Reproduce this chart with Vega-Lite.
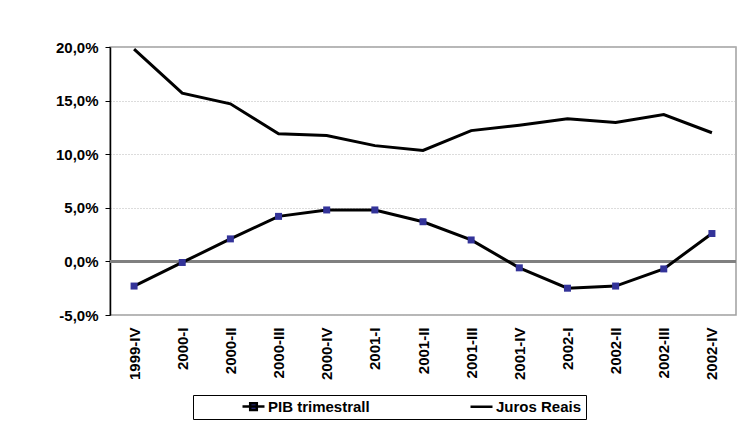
{
  "$schema": "https://vega.github.io/schema/vega-lite/v6.json",
  "width": 626,
  "height": 268,
  "autosize": "none",
  "padding": {"left": 110, "top": 47, "right": 12, "bottom": 132},
  "background": "white",
  "config": {
    "font": "Liberation Sans",
    "view": {"stroke": "#a0a0a0", "strokeWidth": 1.5}
  },
  "data": {
    "values": [
      {"q": "1999-IV", "serie": "Juros Reais", "v": 19.8},
      {"q": "2000-I", "serie": "Juros Reais", "v": 15.7},
      {"q": "2000-II", "serie": "Juros Reais", "v": 14.7},
      {"q": "2000-III", "serie": "Juros Reais", "v": 11.9},
      {"q": "2000-IV", "serie": "Juros Reais", "v": 11.75},
      {"q": "2001-I", "serie": "Juros Reais", "v": 10.8},
      {"q": "2001-II", "serie": "Juros Reais", "v": 10.35},
      {"q": "2001-III", "serie": "Juros Reais", "v": 12.2},
      {"q": "2001-IV", "serie": "Juros Reais", "v": 12.7},
      {"q": "2002-I", "serie": "Juros Reais", "v": 13.3},
      {"q": "2002-II", "serie": "Juros Reais", "v": 12.95},
      {"q": "2002-III", "serie": "Juros Reais", "v": 13.7},
      {"q": "2002-IV", "serie": "Juros Reais", "v": 12.0},
      {"q": "1999-IV", "serie": "PIB trimestrall", "v": -2.3},
      {"q": "2000-I", "serie": "PIB trimestrall", "v": -0.1},
      {"q": "2000-II", "serie": "PIB trimestrall", "v": 2.1},
      {"q": "2000-III", "serie": "PIB trimestrall", "v": 4.2},
      {"q": "2000-IV", "serie": "PIB trimestrall", "v": 4.8},
      {"q": "2001-I", "serie": "PIB trimestrall", "v": 4.8},
      {"q": "2001-II", "serie": "PIB trimestrall", "v": 3.7},
      {"q": "2001-III", "serie": "PIB trimestrall", "v": 2.0},
      {"q": "2001-IV", "serie": "PIB trimestrall", "v": -0.6},
      {"q": "2002-I", "serie": "PIB trimestrall", "v": -2.5},
      {"q": "2002-II", "serie": "PIB trimestrall", "v": -2.3},
      {"q": "2002-III", "serie": "PIB trimestrall", "v": -0.7},
      {"q": "2002-IV", "serie": "PIB trimestrall", "v": 2.6}
    ]
  },
  "layer": [
    {
      "mark": {"type": "rule", "color": "#808080", "strokeWidth": 1.5},
      "encoding": {"y": {"datum": 0, "type": "quantitative"}}
    },
    {
      "mark": {"type": "line", "strokeWidth": 3},
      "encoding": {
        "x": {
          "field": "q", "type": "nominal",
          "sort": ["1999-IV","2000-I","2000-II","2000-III","2000-IV","2001-I","2001-II","2001-III","2001-IV","2002-I","2002-II","2002-III","2002-IV"],
          "scale": {"padding": 0.5},
          "axis": {"title": null, "labelAngle": 270, "labelPadding": 12, "ticks": false, "domain": false, "grid": false,
                   "labelFont": "Liberation Sans", "labelFontWeight": "bold", "labelFontSize": 15, "labelColor": "black"}
        },
        "y": {
          "field": "v", "type": "quantitative",
          "scale": {"domain": [-5, 20], "nice": false, "zero": false},
          "axis": {"title": null, "values": [-5, 0, 5, 10, 15, 20],
                   "labelExpr": "replace(replace(format(datum.value, '.1f'), '.', ','), '\u2212', '-') + '%'",
                   "labelFont": "Liberation Sans", "labelFontWeight": "bold", "labelFontSize": 15, "labelColor": "black",
                   "labelPadding": 7, "tickSize": 5, "tickColor": "black", "domainColor": "black", "domainWidth": 1.5,
                   "grid": true, "gridDash": [1, 2], "gridColor": "#b8b8b8", "gridWidth": 1}
        },
        "color": {
          "field": "serie", "type": "nominal",
          "scale": {"domain": ["PIB trimestrall", "Juros Reais"], "range": ["black", "black"]},
          "legend": {
            "title": null, "orient": "none", "legendX": 83, "legendY": 348, "direction": "horizontal",
            "gridAlign": "all",
            "strokeColor": "black", "padding": 4, "columnPadding": 55, "symbolOffset": 49, "labelOffset": 7,
            "labelFont": "Liberation Sans", "labelFontSize": 15, "labelFontWeight": "bold", "labelColor": "black",
            "symbolSize": 121, "symbolStrokeWidth": 3,
            "encode": {
              "symbols": {
                "update": {
                  "shape": {"signal": "datum.value === 'PIB trimestrall' ? 'M-2,0H2M-0.6,-0.6H0.6V0.6H-0.6Z' : 'M-2,0H2'"},
                  "fill": {"signal": "datum.value === 'PIB trimestrall' ? '#333399' : 'transparent'"},
                  "stroke": {"value": "black"},
                  "strokeWidth": {"value": 2.5},
                  "opacity": {"value": 1}
                }
              }
            }
          }
        }
      }
    },
    {
      "transform": [{"filter": "datum.serie === 'PIB trimestrall'"}],
      "mark": {"type": "square", "size": 49, "color": "#333399", "opacity": 1},
      "encoding": {
        "x": {"field": "q", "type": "nominal",
              "sort": ["1999-IV","2000-I","2000-II","2000-III","2000-IV","2001-I","2001-II","2001-III","2001-IV","2002-I","2002-II","2002-III","2002-IV"]},
        "y": {"field": "v", "type": "quantitative"}
      }
    }
  ]
}
